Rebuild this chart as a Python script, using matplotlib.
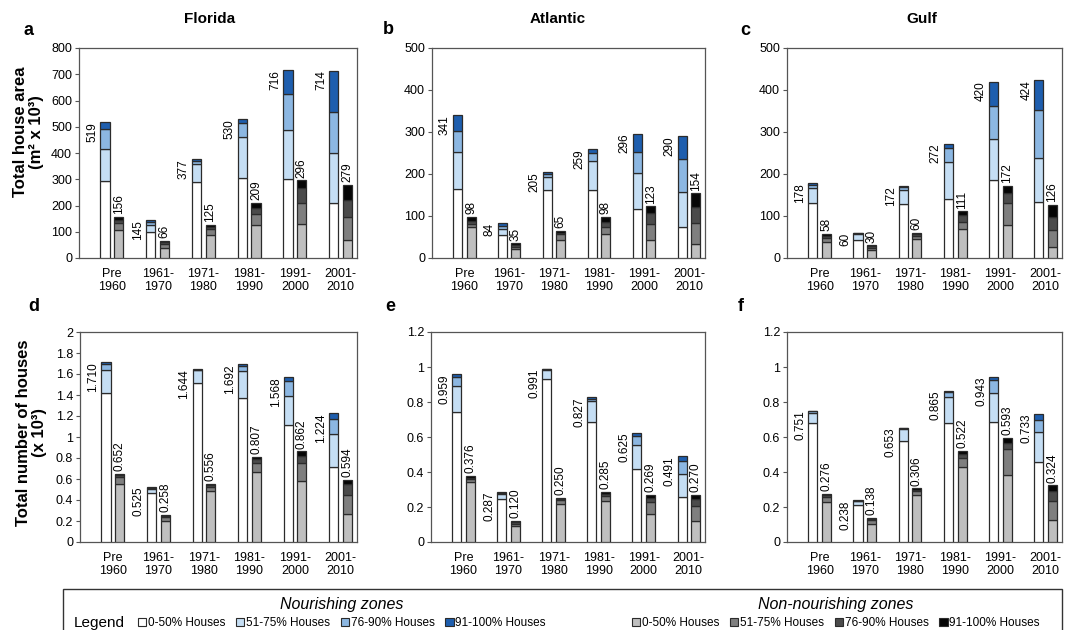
import numpy as np
import matplotlib
matplotlib.use("Agg")
import matplotlib.pyplot as plt
from matplotlib.patches import Patch, Rectangle

plt.rcParams['font.family'] = ['Liberation Sans', 'DejaVu Sans']

periods = ["Pre\n1960", "1961-\n1970", "1971-\n1980", "1981-\n1990", "1991-\n2000", "2001-\n2010"]
bands = ["0-50% Houses", "51-75% Houses", "76-90% Houses", "91-100% Houses"]

# rows: 0-50, 51-75, 76-90, 91-100 ; columns: periods
fl_area_nour = [[295, 98, 290, 304, 300, 209],
                [120, 29, 70, 156, 188, 191],
                [78, 10, 10, 56, 135, 155],
                [26, 8, 7, 14, 93, 159]]
fl_area_non = [[108, 40, 87, 127, 129, 67],
               [27, 14, 23, 39, 81, 88],
               [11, 7, 8, 26, 56, 65],
               [10, 5, 7, 17, 30, 59]]
at_area_nour = [[165, 54, 163, 163, 116, 75],
                [87, 14, 30, 68, 87, 82],
                [51, 8, 8, 20, 50, 79],
                [38, 8, 4, 8, 43, 54]]
at_area_non = [[74, 22, 44, 58, 42, 34],
               [8, 5, 12, 16, 38, 50],
               [7, 4, 4, 12, 27, 38],
               [9, 4, 5, 12, 16, 32]]
gu_area_nour = [[131, 44, 128, 140, 186, 133],
                [35, 14, 34, 89, 98, 104],
                [9, 1, 6, 33, 79, 116],
                [3, 1, 4, 10, 57, 71]]
gu_area_non = [[39, 20, 45, 70, 78, 26],
               [9, 5, 8, 16, 52, 40],
               [4, 3, 3, 16, 24, 32],
               [6, 2, 4, 9, 18, 28]]
fl_num_nour = [[1.417, 0.462, 1.513, 1.369, 1.111, 0.710],
               [0.223, 0.044, 0.121, 0.258, 0.281, 0.319],
               [0.060, 0.012, 0.006, 0.051, 0.137, 0.140],
               [0.010, 0.007, 0.004, 0.014, 0.039, 0.055]]
fl_num_non = [[0.557, 0.200, 0.484, 0.662, 0.580, 0.264],
              [0.060, 0.035, 0.041, 0.086, 0.168, 0.185],
              [0.020, 0.013, 0.018, 0.039, 0.070, 0.102],
              [0.015, 0.010, 0.013, 0.020, 0.044, 0.043]]
at_num_nour = [[0.745, 0.248, 0.931, 0.688, 0.417, 0.258],
               [0.147, 0.025, 0.052, 0.115, 0.137, 0.130],
               [0.050, 0.008, 0.005, 0.016, 0.054, 0.074],
               [0.017, 0.006, 0.003, 0.008, 0.017, 0.029]]
at_num_non = [[0.345, 0.090, 0.220, 0.232, 0.159, 0.120],
              [0.015, 0.015, 0.018, 0.030, 0.069, 0.085],
              [0.008, 0.008, 0.006, 0.013, 0.024, 0.043],
              [0.008, 0.007, 0.006, 0.010, 0.017, 0.022]]
gu_num_nour = [[0.678, 0.210, 0.579, 0.682, 0.688, 0.455],
               [0.058, 0.025, 0.068, 0.145, 0.166, 0.176],
               [0.010, 0.002, 0.004, 0.031, 0.069, 0.067],
               [0.005, 0.001, 0.002, 0.007, 0.020, 0.035]]
gu_num_non = [[0.229, 0.105, 0.270, 0.430, 0.382, 0.124],
              [0.029, 0.020, 0.022, 0.048, 0.148, 0.109],
              [0.010, 0.008, 0.008, 0.027, 0.035, 0.057],
              [0.008, 0.005, 0.006, 0.017, 0.028, 0.034]]

nour_colors = ["#ffffff", "#c5def4", "#8cb7e2", "#1e5eae"]
non_colors = ["#bfbfbf", "#7f7f7f", "#4b4b4b", "#050505"]
edge = "#2b2b2b"
frame = "#555555"

W, H = 1069, 630
fig = plt.figure(figsize=(W / 100, H / 100), dpi=100)


def px_axes(left, top, right, bottom):
    return fig.add_axes([left / W, 1 - bottom / H, (right - left) / W, (bottom - top) / H])


def draw_panel(ax, nour, non, ymax, ystep, fmt):
    x = np.arange(len(periods))
    w = 0.2
    off = 0.15
    nour = np.array(nour, dtype=float)
    non = np.array(non, dtype=float)
    bot = np.zeros(len(periods))
    for k in range(4):
        ax.bar(x - off, nour[k], w, bottom=bot, color=nour_colors[k], edgecolor=edge, linewidth=0.9, zorder=3)
        bot += nour[k]
    tot_n = bot.copy()
    bot = np.zeros(len(periods))
    for k in range(4):
        ax.bar(x + off, non[k], w, bottom=bot, color=non_colors[k], edgecolor=edge, linewidth=0.9, zorder=3)
        bot += non[k]
    tot_g = bot.copy()
    for i in range(len(periods)):
        ax.annotate(fmt % tot_n[i], xy=(x[i] - off - w / 2, tot_n[i]), xytext=(-1.5, 0),
                    textcoords="offset points", rotation=90, ha="right", va="top", fontsize=8.5)
        ax.annotate(fmt % tot_g[i], xy=(x[i] + off, tot_g[i]), xytext=(0, 2),
                    textcoords="offset points", rotation=90, ha="center", va="bottom", fontsize=8.5)
    ax.set_xlim(-0.72, 5.36)
    ax.set_ylim(0, ymax)
    ticks = np.arange(0, ymax + ystep / 2, ystep)
    ax.set_yticks(ticks)
    ax.set_yticklabels(["%g" % round(t, 1) for t in ticks])
    ax.set_xticks(x)
    ax.set_xticklabels(periods, linespacing=1.15)
    ax.tick_params(axis="x", length=0, pad=7, labelsize=9)
    ax.tick_params(axis="y", length=3, width=0.8, color=frame, pad=2, labelsize=9)
    for s in ax.spines.values():
        s.set_color(frame)
        s.set_linewidth(0.9)


ax_a = px_axes(79, 48, 357, 258)
ax_b = px_axes(432, 48, 705, 258)
ax_c = px_axes(787, 48, 1062, 258)
ax_d = px_axes(80, 332, 357, 542)
ax_e = px_axes(431, 332, 705, 542)
ax_f = px_axes(787, 332, 1062, 542)

draw_panel(ax_a, fl_area_nour, fl_area_non, 800, 100, "%d")
draw_panel(ax_b, at_area_nour, at_area_non, 500, 100, "%d")
draw_panel(ax_c, gu_area_nour, gu_area_non, 500, 100, "%d")
draw_panel(ax_d, fl_num_nour, fl_num_non, 2.0, 0.2, "%.3f")
draw_panel(ax_e, at_num_nour, at_num_non, 1.2, 0.2, "%.3f")
draw_panel(ax_f, gu_num_nour, gu_num_non, 1.2, 0.2, "%.3f")

ax_a.set_ylabel("Total house area\n(m² x 10³)", fontsize=12, fontweight="bold", linespacing=1.05)
ax_a.yaxis.set_label_coords(-0.126, 0.6)
ax_d.set_ylabel("Total number of houses\n(x 10³)", fontsize=12, fontweight="bold", linespacing=1.05)
ax_d.yaxis.set_label_coords(-0.119, 0.52)

for name, cx in [("Florida", 210), ("Atlantic", 558), ("Gulf", 922)]:
    fig.text(cx / W, 1 - 23 / H, name, ha="center", va="baseline", fontsize=11, fontweight="bold")

for lab, lx, ly in [("a", 23, 35), ("b", 383, 34), ("c", 740, 35),
                    ("d", 28, 311), ("e", 385, 311), ("f", 738, 311)]:
    fig.text(lx / W, 1 - ly / H, lab, ha="left", va="baseline", fontsize=13, fontweight="bold")

# legend box
fig.patches.append(Rectangle((63 / W, -0.05), (1062 - 63) / W, (630 - 589) / H + 0.05,
                             transform=fig.transFigure, fill=False, edgecolor="#333333", linewidth=1))
fig.text(74 / W, 1 - 623 / H, "Legend", ha="left", va="center", fontsize=11)
fig.text(342 / W, 1 - 605 / H, "Nourishing zones", ha="center", va="center", fontsize=11.5, style="italic")
fig.text(836 / W, 1 - 605 / H, "Non-nourishing zones", ha="center", va="center", fontsize=11.5, style="italic")

h_n = [Patch(facecolor=c, edgecolor=edge, linewidth=0.8) for c in nour_colors]
h_g = [Patch(facecolor=c, edgecolor=edge, linewidth=0.8) for c in non_colors]
leg_kw = dict(ncol=4, frameon=False, fontsize=8.5, handlelength=0.7, handleheight=0.7,
              handletextpad=0.15, columnspacing=0.9, borderpad=0, borderaxespad=0)
fig.legend(h_n, bands, loc="center", bbox_to_anchor=(342 / W, 1 - 623 / H), **leg_kw)
fig.legend(h_g, bands, loc="center", bbox_to_anchor=(836 / W, 1 - 623 / H), **leg_kw)

fig.savefig("out.png", dpi=100)
